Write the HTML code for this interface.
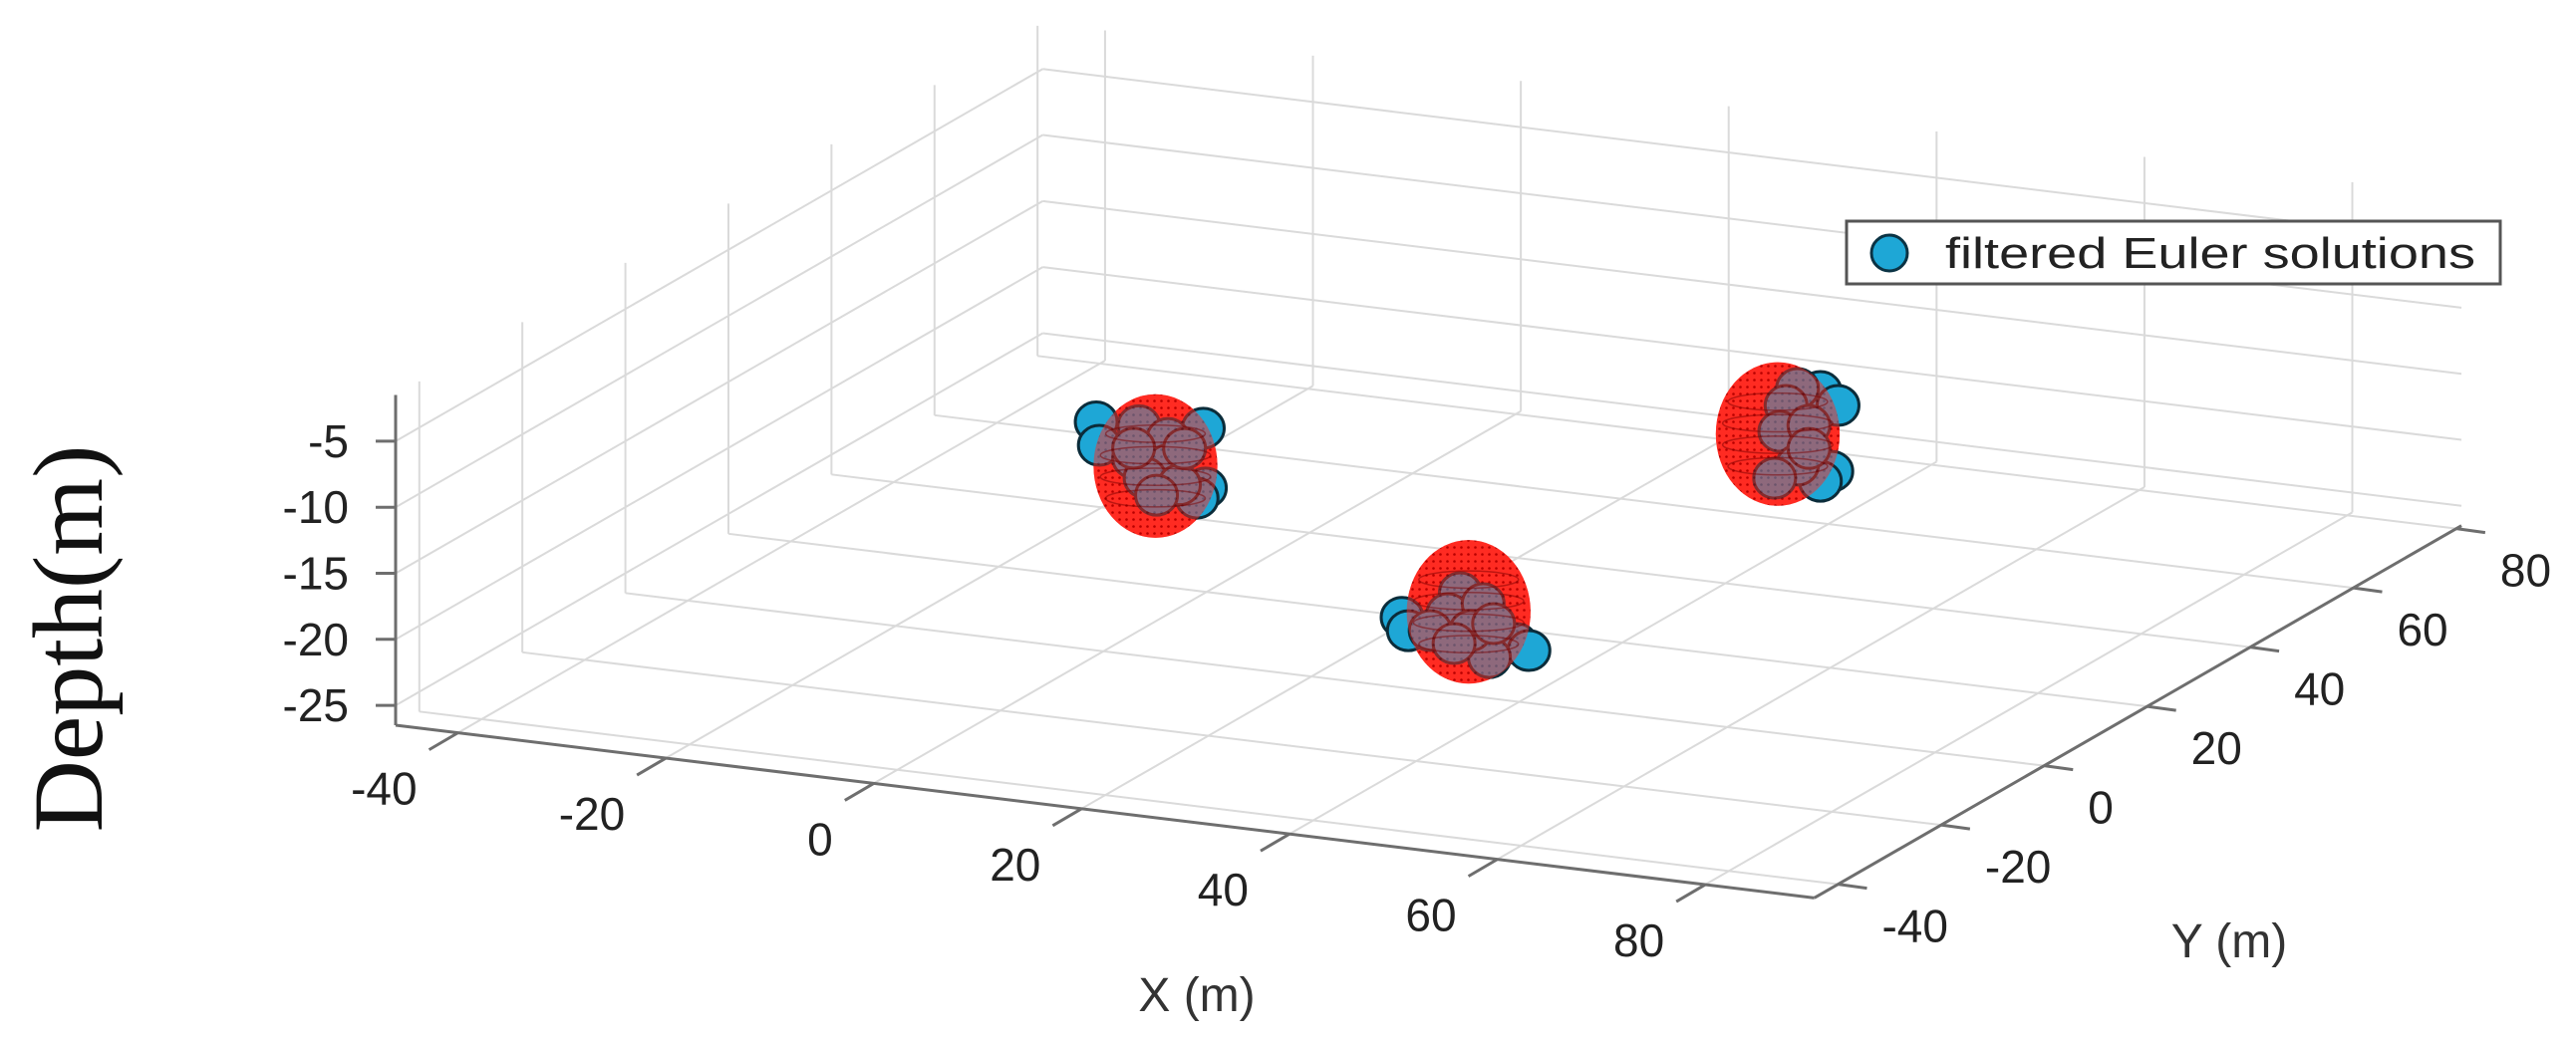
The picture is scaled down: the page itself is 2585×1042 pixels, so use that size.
<!DOCTYPE html>
<html><head><meta charset="utf-8"><style>
html,body{margin:0;padding:0;background:#fff;}
svg{display:block;}
text{font-family:"Liberation Sans",Arial,sans-serif;fill:#222;}
</style></head><body>
<svg id="chart" xmlns="http://www.w3.org/2000/svg" width="2585" height="1042" viewBox="0 0 2585 1042">
<defs>
<pattern id="mesh" width="7" height="7" patternUnits="userSpaceOnUse">
<rect width="7" height="7" fill="#ff2b22"/>
<circle cx="3.5" cy="3.5" r="1.3" fill="#b80000"/>
</pattern>
</defs>
<g id="grid"></g>
<g id="axes"></g>
<g id="marks"></g>
<text transform="translate(102,641) rotate(-90)" text-anchor="middle" style="font-family:'Liberation Serif',serif;font-size:100px;fill:#111">Depth(m)</text>
<text x="1201" y="1015" text-anchor="middle" style="font-size:48px;fill:#333">X (m)</text>
<text x="2237" y="961" text-anchor="middle" style="font-size:48px;fill:#333">Y (m)</text>
<g>
<rect x="1853" y="222" width="656" height="63" fill="#fff" stroke="#555" stroke-width="3"/>
<circle cx="1896" cy="254" r="18" fill="#1ea7d6" stroke="#0b3344" stroke-width="3"/>
<text x="1952" y="269" textLength="532" lengthAdjust="spacingAndGlyphs" style="font-size:44px;fill:#222">filtered Euler solutions</text>
</g>
</svg>
<script>
// axis ranges & ticks
const xRange = [-46, 90.5];
const yRange = [-44.6, 81];
const zRange = [-26.5, -1.5];
const xTicks = [-40, -20, 0, 20, 40, 60, 80];
const yTicks = [-40, -20, 0, 20, 40, 60, 80];
const zTicks = [-25, -20, -15, -10, -5];
// sphere sources
const sphereX = [5, 50, 50];
const sphereY = [0, -30, 30];
const sphereZ = [-12, -12, -12];
const sphereR = [5.5, 5.5, 5.5];
// filtered Euler solutions
const ptX = [-0.7,-0.4,9.6,9.8,9.0,3.4,6.2,2.9,6.2,4.0,7.3,5.1,2.9,7.8,
  43.6,44.2,54.6,55.8,52.0,49.2,48.0,51.4,46.3,50.2,48.6,52.4,
  54.1,55.8,51.9,55.2,54.1,50.8,50.2,53.0,51.9,49.7,53.0];
const ptY = [0,0,0,0,0,0,0,0,0,0,0,0,0,0,
  -30,-30,-30,-30,-30,-30,-30,-30,-30,-30,-30,-30,
  30,30,30,30,30,30,30,30,30,30,30];
const ptZ = [-9.2,-10.95,-8.7,-13.2,-14.05,-9.1,-9.8,-11.6,-11.8,-13.0,-13.2,-14.2,-10.85,-10.4,
  -13.03,-13.98,-13.96,-14.37,-15.27,-10.63,-12.33,-11.25,-13.77,-13.4,-14.53,-12.66,
  -8.39,-9.28,-8.37,-14.32,-15.18,-9.76,-11.78,-11.06,-14.17,-15.37,-12.8];

const NS = 'http://www.w3.org/2000/svg';
const O = [397, 728], ex = [10.43, 1.27], ey = [5.17, -2.975], ez = [0, -13.26];
function P(x, y, z) {
  const a = x - xRange[0], b = y - yRange[0], c = z - zRange[0];
  return [O[0] + a*ex[0] + b*ey[0] + c*ez[0], O[1] + a*ex[1] + b*ey[1] + c*ez[1]];
}
function mk(tag, parent, attrs) {
  const e = document.createElementNS(NS, tag);
  for (const k in attrs) e.setAttribute(k, attrs[k]);
  parent.appendChild(e); return e;
}
function line(parent, p, q, color, w) {
  return mk('line', parent, {x1:p[0], y1:p[1], x2:q[0], y2:q[1], stroke:color, 'stroke-width':w});
}
const grid = document.getElementById('grid');
const axes = document.getElementById('axes');
const marks = document.getElementById('marks');
const GC = '#dadada';
const [x0,x1] = xRange, [y0,y1] = yRange, [z0,z1] = zRange;
xTicks.forEach(x => {
  let l = line(grid, P(x,y0,z0), P(x,y1,z0), GC, 2);
  
  
  l = line(grid, P(x,y1,z0), P(x,y1,z1), GC, 2);
  
  
});
yTicks.forEach(y => {
  let l = line(grid, P(x0,y,z0), P(x1,y,z0), GC, 2);
  
  
  l = line(grid, P(x0,y,z0), P(x0,y,z1), GC, 2);
  
  
});
zTicks.forEach(z => {
  let l = line(grid, P(x0,y0,z), P(x0,y1,z), GC, 2);
  
  
  l = line(grid, P(x0,y1,z), P(x1,y1,z), GC, 2);
  
  
});
// axis lines
const AC = '#6e6e6e';
let ax = line(axes, P(x0,y0,z0), P(x0,y0,z1), AC, 3);


ax = line(axes, P(x0,y0,z0), P(x1,y0,z0), AC, 3);


ax = line(axes, P(x1,y0,z0), P(x1,y1,z0), AC, 3);


zTicks.forEach(z => {
  const p = P(x0,y0,z);
  const t = line(axes, [p[0]-20,p[1]], p, AC, 3);
  
  
  const tx = mk('text', axes, {x:p[0]-47, y:p[1]+16, 'text-anchor':'end', style:'font-size:46px'});
  tx.textContent = z;
  
  
});
xTicks.forEach(x => {
  const p = P(x,y0,z0);
  const t = line(axes, p, [p[0]-29,p[1]+17], AC, 3);
  
  
  const tx = mk('text', axes, {x:p[0]-41, y:p[1]+72, 'text-anchor':'end', style:'font-size:46px'});
  tx.textContent = x;
  
  
});
yTicks.forEach(y => {
  const p = P(x1,y,z0);
  const t = line(axes, p, [p[0]+29,p[1]+4], AC, 3);
  
  
  const tx = mk('text', axes, {x:p[0]+44, y:p[1]+58, 'text-anchor':'start', style:'font-size:46px'});
  tx.textContent = y;
  
  
});
// spheres + points
sphereX.forEach((sx, i) => {
  const c = P(sx, sphereY[i], sphereZ[i]);
  const rx = sphereR[i]*11.3, ry = sphereR[i]*13.1;
  const g = mk('g', marks, {});
  
  
  const base = mk('ellipse', g, {cx:c[0], cy:c[1], rx:rx, ry:ry, fill:'url(#mesh)'});
  
  
  ptX.forEach((px, j) => {
    if (ptY[j] !== sphereY[i]) return;
    const q = P(px, ptY[j], ptZ[j]);
    const m = mk('ellipse', g, {cx:q[0], cy:q[1], rx:21, ry:20, fill:'#1ea7d6', stroke:'#0b2c3a', 'stroke-width':3});
    
    
  });
  const ov = mk('ellipse', g, {cx:c[0], cy:c[1], rx:rx, ry:ry, fill:'url(#mesh)', opacity:0.5});
  
  
  for (let k = 1; k < 5; k++) {
    const rl = mk('ellipse', g, {cx:c[0], cy:c[1]+ry*(k-2.5)*0.3, rx:rx*Math.sqrt(1-Math.pow((k-2.5)*0.3,2))*0.9, ry:ry*0.12, fill:'none', stroke:'#7a0000', 'stroke-width':1.5, opacity:0.5});
    
    
  }
});
</script>
</body></html>
